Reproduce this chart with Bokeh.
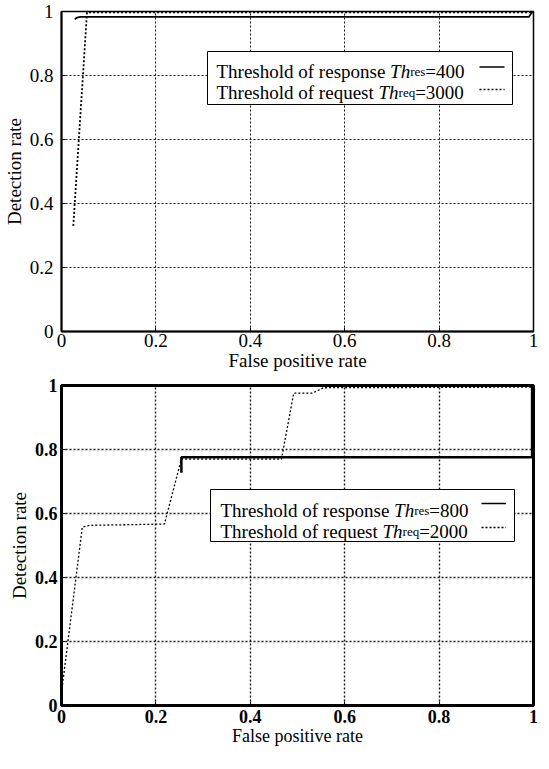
from bokeh.plotting import figure
from bokeh.models import Range1d, FixedTicker, Label
from bokeh.layouts import column
from bokeh.embed import file_html
from bokeh.resources import INLINE

# ---------------- data ----------------
tick_values = [0, 0.2, 0.4, 0.6, 0.8, 1]
tick_labels = ["0", "0.2", "0.4", "0.6", "0.8", "1"]

x_label = "False positive rate"
y_label = "Detection rate"

# top chart
top_res_fpr = [0.028, 0.033, 0.040, 0.990, 0.998]
top_res_det = [0.976, 0.981, 0.983, 0.983, 1.000]
top_req_fpr = [0.025, 0.054, 1.000]
top_req_det = [0.330, 0.997, 0.997]
top_entries = [("Threshold of response ", "Th", "res", "=400"),
               ("Threshold of request ", "Th", "req", "=3000")]

# bottom chart
bot_res_fpr = [0.254, 0.254, 0.997, 0.997]
bot_res_det = [0.727, 0.776, 0.776, 1.000]
bot_req_fpr = [0.000, 0.044, 0.060, 0.218, 0.254, 0.466, 0.492, 0.531, 0.555, 1.000]
bot_req_det = [0.040, 0.557, 0.563, 0.567, 0.770, 0.770, 0.976, 0.976, 0.993, 0.995]
bot_entries = [("Threshold of response ", "Th", "res", "=800"),
               ("Threshold of request ", "Th", "req", "=2000")]

FONT = "Liberation Serif"
MAIN_PX = 19
SUB_PX = 13

# Times / Liberation Serif advance widths (per 1000 em)
W_REG = {' ': 250, '=': 564, 'T': 611, 'h': 500, 'r': 333, 'e': 444, 's': 389,
         'o': 500, 'l': 278, 'd': 500, 'f': 333, 'p': 500, 'n': 500, 'q': 500,
         'u': 500, 't': 278}
for c in "0123456789":
    W_REG[c] = 500
W_ITA = {'T': 556, 'h': 500}


def tw(s, size, table=W_REG):
    return sum(table.get(c, 500) for c in s) * size / 1000.0


def make_fig(fw, fh, bl, bt, bb, br, tick_font, tick_style, axis_w, outline_w,
             grid_w, xlab_size, ylab_size, ystand, xstand):
    p = figure(frame_width=fw, frame_height=fh, min_border_left=bl,
               min_border_top=bt, min_border_bottom=bb, min_border_right=br,
               output_backend="svg", toolbar_location=None,
               x_range=Range1d(0, 1), y_range=Range1d(0, 1))
    p.background_fill_color = "white"
    p.border_fill_color = "white"
    p.outline_line_color = "black"
    p.outline_line_width = outline_w
    for ax in (p.xaxis[0], p.yaxis[0]):
        ax.ticker = FixedTicker(ticks=tick_values)
        ax.major_label_overrides = {v: t for v, t in zip(tick_values, tick_labels)}
        ax.major_label_text_font = FONT
        ax.major_label_text_font_size = tick_font
        ax.major_label_text_font_style = tick_style
        ax.major_label_text_color = "black"
        ax.axis_line_color = "black"
        ax.axis_line_width = axis_w
        ax.major_tick_in = 4
        ax.major_tick_out = 0
        ax.major_tick_line_color = "black"
        ax.minor_tick_line_color = None
        ax.axis_label_text_font = FONT
        ax.axis_label_text_font_style = "normal"
        ax.axis_label_text_color = "black"
    p.xaxis[0].axis_label = x_label
    p.yaxis[0].axis_label = y_label
    p.xaxis[0].axis_label_text_font_size = xlab_size
    p.yaxis[0].axis_label_text_font_size = ylab_size
    p.yaxis[0].major_label_standoff = ystand
    p.xaxis[0].major_label_standoff = xstand
    p.yaxis[0].axis_label_standoff = 2
    p.xaxis[0].axis_label_standoff = 0
    for g in (p.xgrid[0], p.ygrid[0]):
        g.grid_line_color = "black"
        g.grid_line_dash = "2 2"
        g.grid_line_width = grid_w
        g.grid_line_alpha = 0.9
    return p


def add_legend(p, fw, fh, right_gap, top_gap, bw, bh, pad, baselines,
               sample_ys, s_from, s_to, entries, dashes, widths):
    def dx(px):
        return px / fw

    def dy(py):
        return 1 - py / fh

    left_px = fw - right_gap - bw
    right_px = fw - right_gap
    p.quad(left=[dx(left_px)], right=[dx(right_px)], top=[dy(top_gap)],
           bottom=[dy(top_gap + bh)], fill_color="white", fill_alpha=1,
           line_color="black", line_width=1)
    for i, (pre, th, sub, post) in enumerate(entries):
        yb = dy(top_gap + baselines[i])
        x0 = left_px + pad
        pieces = [(pre, MAIN_PX, "normal", tw(pre, MAIN_PX)),
                  (th, MAIN_PX, "italic", tw(th, MAIN_PX, W_ITA)),
                  (sub, SUB_PX, "normal", tw(sub, SUB_PX)),
                  (post, MAIN_PX, "normal", tw(post, MAIN_PX))]
        for text, size, style, w in pieces:
            p.add_layout(Label(x=dx(x0), y=yb, text=text, text_font=FONT,
                               text_font_size=f"{size}px", text_font_style=style,
                               text_color="black", text_align="left",
                               text_baseline="alphabetic"))
            x0 += w
        ys = dy(top_gap + sample_ys[i])
        p.line(x=[dx(right_px - s_from), dx(right_px - s_to)], y=[ys, ys],
               line_color="black", line_width=widths[i], line_dash=dashes[i])


FW = 472
FH = 320

# ---------------- top chart ----------------
p1 = make_fig(FW, FH, bl=53, bt=11, bb=40, br=8, tick_font="19px",
              tick_style="normal", axis_w=2, outline_w=1.5, grid_w=1,
              xlab_size="19px", ylab_size="19px", ystand=8, xstand=2)
p1.line(top_res_fpr, top_res_det, line_color="black", line_width=1.8)
p1.line(top_req_fpr, top_req_det, line_color="black", line_width=1.8,
        line_dash="2 2")
add_legend(p1, FW, FH, right_gap=21, top_gap=40, bw=305, bh=53, pad=9,
           baselines=[19.5, 40.5], sample_ys=[15.5, 38], s_from=33, s_to=8,
           entries=top_entries, dashes=["solid", "2 2"], widths=[1.5, 1.5])

# ---------------- bottom chart ----------------
p2 = make_fig(FW, FH, bl=47, bt=12, bb=40, br=14, tick_font="18px",
              tick_style="bold", axis_w=3, outline_w=3, grid_w=1.4,
              xlab_size="18px", ylab_size="19px", ystand=4, xstand=4)
p2.line(bot_res_fpr, bot_res_det, line_color="black", line_width=2.5)
p2.line(bot_req_fpr, bot_req_det, line_color="black", line_width=1.3,
        line_dash="2 2")
add_legend(p2, FW, FH, right_gap=19, top_gap=104, bw=304, bh=52, pad=10,
           baselines=[21, 42], sample_ys=[14, 38], s_from=33, s_to=8.5,
           entries=bot_entries, dashes=["solid", "2 2"], widths=[1.5, 1.3])

layout = column(p1, p2)
open("out.html", "w").write(file_html(layout, INLINE))
